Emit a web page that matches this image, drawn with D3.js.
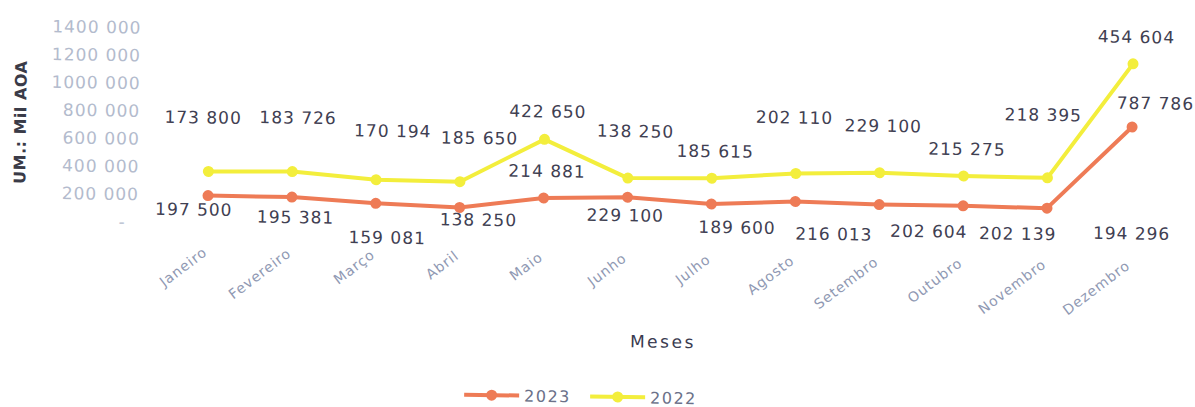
<!DOCTYPE html>
<html>
<head>
<meta charset="utf-8">
<script src="https://cdn.jsdelivr.net/npm/d3@7"></script>
<style>
  body { margin: 0; background: #fff; }
  svg { display: block; font-family: "DejaVu Sans", sans-serif; }
</style>
</head>
<body>
<svg class="chart"></svg>
<script>
var months = ["Janeiro", "Fevereiro", "Março", "Abril", "Maio", "Junho",
              "Julho", "Agosto", "Setembro", "Outubro", "Novembro", "Dezembro"];
var values2023 = [197500, 195381, 159081, 138250, 214881, 229100,
                  189600, 216013, 202604, 202139, 194296, 787786];
var values2022 = [173800, 183726, 170194, 185650, 422650, 138250,
                  185615, 202110, 229100, 215275, 218395, 454604];
var yTicks = [0, 200000, 400000, 600000, 800000, 1000000, 1200000, 1400000];
var seriesNames = ["2023", "2022"];

// where each data label sits relative to its point (labels were placed by hand)
var nudge2023 = [[-14, 14], [4, 20], [12, 34], [19, 12], [3, -27], [-2, 18],
                 [26, 23], [39, 32], [50, 26], [55, 27], [85, 24], [23, -24]];
var nudge2022 = [[-6, -54], [5, -54], [16, -49], [19, -44], [3, -28], [7, -47],
                 [3, -27], [-2, -56], [3, -47], [3, -27], [-5, -63], [3, -27]];

var width = 1195,
    height = 407,
    colors = {"2023": "#ee7b56", "2022": "#f3ee3c"};

var table = months.map(function(m, i) {
  return {month: m, "2023": values2023[i], "2022": values2022[i]};
});
var stacked = d3.stack().keys(seriesNames)(table);

var x = d3.scalePoint()
    .domain(months)
    .range([208, 1131]);

var y = d3.scaleLinear()
    .domain([0, 1400000])
    .range([223, 28.6]);

var svg = d3.select(".chart")
    .attr("width", width)
    .attr("height", height);

// the source scan is tilted a little clockwise
var chart = svg.append("g")
    .attr("transform", "rotate(0.83,208,196)");

var fmt = function(v) {
  if (v == 0) return "-";
  var s = Math.round(v).toString();
  return s.slice(0, -3) + " " + s.slice(-3);
};

var yAxis = chart.append("g")
    .attr("transform", "translate(139,0)")
    .call(d3.axisLeft(y).tickValues(yTicks).tickSize(0).tickPadding(0).tickFormat(fmt));
yAxis.select(".domain").remove();
yAxis.selectAll("text")
    .attr("fill", "#b3bbcd")
    .style("font-size", "17px")
    .style("letter-spacing", "1px")
    .style("font-family", "DejaVu Sans")
    .attr("x", function(d) { return d == 0 ? -13 : 0; });

chart.append("text")
    .attr("transform", "translate(25,125) rotate(-90)")
    .attr("text-anchor", "middle")
    .attr("fill", "#3a3b48")
    .style("font-size", "16px")
    .style("font-weight", "bold")
    .style("letter-spacing", "0.5px")
    .text("UM.: Mil AOA");

var line = d3.line()
    .x(function(d) { return x(d.data.month); })
    .y(function(d) { return y(d[1]); });

var series = chart.selectAll(".series")
    .data(stacked)
  .enter().append("g")
    .attr("class", "series");

series.append("path")
    .attr("d", line)
    .attr("fill", "none")
    .attr("stroke", function(s) { return colors[s.key]; })
    .attr("stroke-width", 4)
    .attr("stroke-linejoin", "round");

series.selectAll("circle")
    .data(function(s) { return s.map(function(d) { return {d: d, key: s.key}; }); })
  .enter().append("circle")
    .attr("cx", function(p) { return x(p.d.data.month); })
    .attr("cy", function(p) { return y(p.d[1]); })
    .attr("r", 5.5)
    .attr("fill", function(p) { return colors[p.key]; });

series.selectAll(".label")
    .data(function(s) { return s.map(function(d, i) { return {d: d, key: s.key, i: i}; }); })
  .enter().append("text")
    .attr("class", "label")
    .attr("text-anchor", "middle")
    .attr("x", function(p) {
      var n = p.key == "2023" ? nudge2023 : nudge2022;
      return x(p.d.data.month) + n[p.i][0];
    })
    .attr("y", function(p) {
      var n = p.key == "2023" ? nudge2023 : nudge2022;
      return y(p.d[1]) + n[p.i][1] + 6;
    })
    .attr("fill", "#3f4052")
    .style("font-size", "17px")
    .style("letter-spacing", "1px")
    .text(function(p) { return fmt(p.d.data[p.key]); });

chart.selectAll(".month")
    .data(months)
  .enter().append("text")
    .attr("class", "month")
    .attr("text-anchor", "end")
    .attr("transform", function(d) { return "translate(" + (x(d) + 1) + ",254) rotate(-38)"; })
    .attr("fill", "#9099b3")
    .style("font-size", "14px")
    .style("letter-spacing", "1px")
    .text(function(d) { return d; });

chart.append("text")
    .attr("x", 665)
    .attr("y", 341)
    .attr("text-anchor", "middle")
    .attr("fill", "#3a3b50")
    .style("font-size", "17px")
    .style("letter-spacing", "2.5px")
    .text("Meses");

var legend = chart.selectAll(".legend")
    .data(seriesNames)
  .enter().append("g")
    .attr("class", "legend")
    .attr("transform", function(d, i) { return "translate(" + (467 + i * 126) + ",391)"; });

legend.append("line")
    .attr("x1", 0).attr("x2", 55)
    .attr("stroke", function(d) { return colors[d]; })
    .attr("stroke-width", 4);

legend.append("circle")
    .attr("cx", 27.5)
    .attr("r", 5.5)
    .attr("fill", function(d) { return colors[d]; });

legend.append("text")
    .attr("x", 60)
    .attr("y", 6)
    .attr("fill", "#6b7189")
    .style("font-size", "16px")
    .style("letter-spacing", "1.5px")
    .text(function(d) { return d; });
</script>
</body>
</html>
